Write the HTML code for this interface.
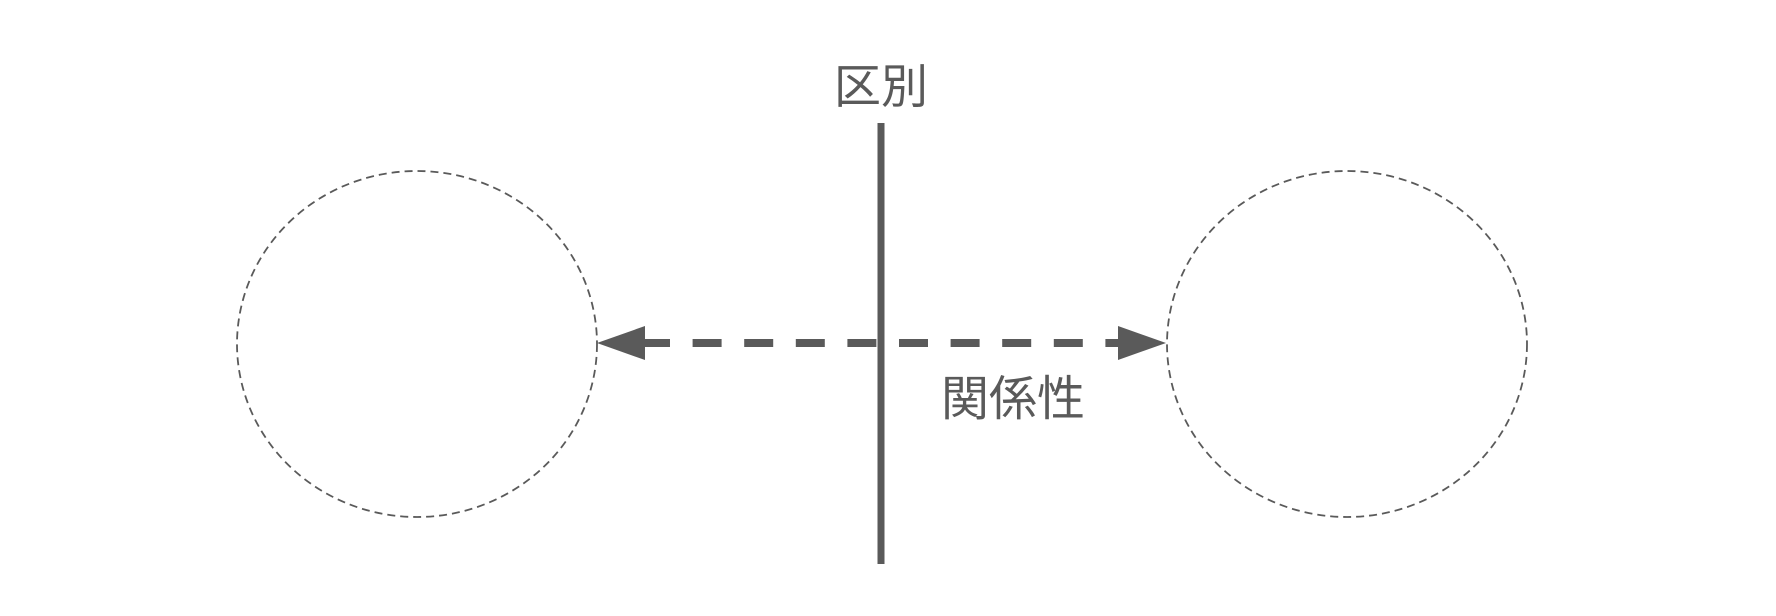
<!DOCTYPE html>
<html><head><meta charset="utf-8"><style>
html,body{margin:0;padding:0;background:#fff;}
svg{display:block;}
text{font-family:"Liberation Sans","Noto Sans CJK JP",sans-serif;fill:#5a5a5a;}
</style></head><body>
<svg width="1776" height="616" viewBox="0 0 1776 616" xmlns="http://www.w3.org/2000/svg">
<rect width="1776" height="616" fill="#fff"/>
<ellipse cx="417" cy="344" rx="180" ry="173" fill="none" stroke="#5a5a5a" stroke-width="1.8" stroke-dasharray="8 5"/>
<ellipse cx="1347" cy="344" rx="180" ry="173" fill="none" stroke="#5a5a5a" stroke-width="1.8" stroke-dasharray="8 5"/>
<line x1="641" y1="343" x2="1118" y2="343" stroke="#5a5a5a" stroke-width="8" stroke-dasharray="29 22.6"/>
<polygon points="597,343 645,326 645,360" fill="#5a5a5a"/>
<polygon points="1166,343 1118,326 1118,360" fill="#5a5a5a"/>
<line x1="881" y1="123" x2="881" y2="564" stroke="#5a5a5a" stroke-width="7"/>
<text x="834" y="103" font-size="47">区別</text>
<text x="941" y="415" font-size="48">関係性</text>
</svg>
</body></html>
